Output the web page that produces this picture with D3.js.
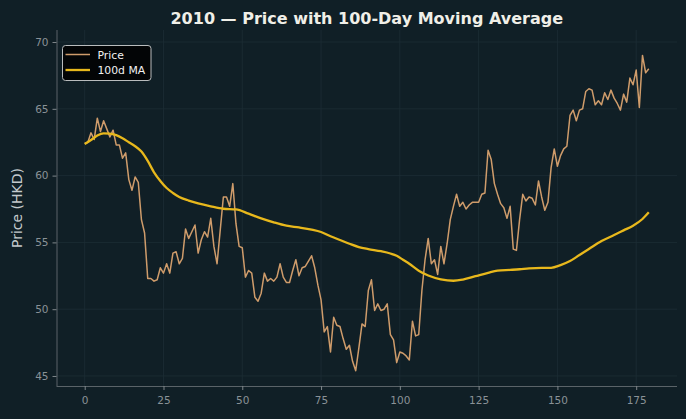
<!DOCTYPE html>
<html>
<head>
<meta charset="utf-8">
<script src="https://cdn.jsdelivr.net/npm/d3@7"></script>
<style>
  body { margin: 0; background: #101f26; }
  svg { display: block; font-family: "DejaVu Sans", sans-serif; }
</style>
</head>
<body>
<svg id="chart"></svg>
<script>
// daily closing price, trading day index 0..179
const price = [
  62.4, 62.5, 63.2, 62.7, 64.3, 63.3, 64.1, 63.5, 62.9, 63.4,
  62.3, 62.3, 61.3, 61.7, 59.7, 58.9, 59.9, 59.5, 56.7, 55.7,
  52.3, 52.3, 52.1, 52.2, 53.1, 52.7, 53.4, 52.7, 54.2, 54.3,
  53.4, 53.8, 56.0, 55.3, 55.8, 56.3, 54.2, 55.2, 55.8, 55.4,
  56.8, 54.7, 53.4, 55.9, 58.4, 58.4, 57.7, 59.4, 56.4, 54.7,
  54.6, 52.4, 52.9, 52.7, 50.9, 50.6, 51.2, 52.7, 52.1, 52.3,
  52.1, 52.4, 53.4, 52.4, 52.0, 52.0, 52.9, 53.7, 52.5, 53.1,
  53.2, 53.6, 54.0, 53.1, 51.8, 50.7, 48.3, 48.7, 46.8, 49.4,
  48.8, 48.7, 47.8, 47.0, 47.3, 46.1, 45.4, 47.1, 48.9, 48.7,
  51.4, 52.2, 49.9, 50.4, 49.9, 50.0, 50.4, 48.1, 47.7, 46.0,
  46.8, 46.7, 46.5, 46.2, 49.1, 48.0, 48.1, 51.4, 53.7, 55.3,
  53.4, 53.7, 52.6, 54.7, 53.4, 54.9, 56.7, 57.7, 58.6, 57.7,
  58.0, 57.5, 57.8, 58.0, 58.0, 58.0, 58.6, 58.7, 61.9, 61.2,
  59.4, 58.6, 57.9, 57.6, 56.8, 57.7, 54.5, 54.4, 56.7, 58.6,
  58.1, 58.4, 58.3, 57.8, 59.6, 58.4, 57.4, 58.0, 60.6, 62.0,
  60.7, 61.5, 62.0, 62.2, 64.5, 64.9, 64.1, 64.9, 65.0, 66.3,
  66.5, 66.4, 65.3, 65.6, 65.3, 66.2, 65.7, 66.4, 65.8, 65.4,
  64.9, 66.1, 65.5, 67.3, 66.8, 67.9, 65.1, 69.0, 67.7, 68.0
];

const maDay = [
  0, 2, 4, 6, 8, 10, 12, 14, 16, 18, 20, 22, 24, 26, 28, 30, 33, 36, 40, 44,
  48, 52, 56, 60, 64, 68, 72, 75, 78, 81, 84, 87, 90, 94, 97, 99, 101, 103, 106, 109,
  113, 117, 120, 124, 128, 131, 135, 138, 141, 145, 148, 151, 154, 157, 160, 164, 168, 171, 174, 177, 179
];
const maValue = [
  62.37, 62.66, 63.0, 63.16, 63.15, 63.03, 62.8, 62.5, 62.2, 61.8, 61.1, 60.25, 59.6, 59.07, 58.7, 58.4, 58.13, 57.92, 57.7, 57.52,
  57.47, 57.15, 56.8, 56.5, 56.25, 56.12, 55.96, 55.78, 55.46, 55.18, 54.9, 54.65, 54.5, 54.34, 54.17, 54.0, 53.7, 53.4, 52.88, 52.52,
  52.24, 52.13, 52.22, 52.47, 52.72, 52.88, 52.94, 52.99, 53.06, 53.1, 53.1, 53.3, 53.6, 54.05, 54.5, 55.1, 55.55, 55.9, 56.25, 56.75, 57.25
];

const xTicks = [0, 25, 50, 75, 100, 125, 150, 175];
const yTicks = [45, 50, 55, 60, 65, 70];

const width = 686;
const height = 419;
const margin = { left: 56.5, right: 9, top: 30, bottom: 33 };

const svg = d3.select("#chart").attr("width", width).attr("height", height);

svg.append("rect").attr("width", width).attr("height", height).attr("fill", "#101f26");

const plotWidth = width - margin.left - margin.right;
const plotHeight = height - margin.top - margin.bottom;

const xScale = d3.scaleLinear().domain([-8.95, 187.95]).range([0, plotWidth]);
const yScale = d3.scaleLinear().domain([44.25, 70.9]).range([plotHeight, 0]);

const g = svg.append("g").attr("transform", "translate(" + margin.left + "," + margin.top + ")");

// grid
g.selectAll(".gx")
  .data(xTicks)
  .join("line")
  .attr("x1", d => xScale(d)).attr("x2", d => xScale(d))
  .attr("y1", 0).attr("y2", plotHeight)
  .attr("stroke", "#1d2d35").attr("stroke-width", 0.8);

g.selectAll(".gy")
  .data(yTicks)
  .join("line")
  .attr("x1", 0).attr("x2", plotWidth)
  .attr("y1", d => yScale(d)).attr("y2", d => yScale(d))
  .attr("stroke", "#1d2d35").attr("stroke-width", 0.8);

// axes
const axisBottom = d3.axisBottom(xScale).tickValues(xTicks).tickSize(4).tickPadding(7);
const axisLeft = d3.axisLeft(yScale).tickValues(yTicks).tickSize(4).tickPadding(4);

const gx = g.append("g").attr("transform", "translate(0," + plotHeight + ")").call(axisBottom);
const gy = g.append("g").call(axisLeft);

[gx, gy].forEach(function (a) {
  a.select(".domain").attr("stroke", "#5a6368").attr("stroke-width", 1);
  a.selectAll(".tick line").attr("stroke", "#7f878b");
  a.selectAll(".tick text")
    .attr("fill", "#8a9297")
    .attr("font-size", 10.5)
    .attr("font-family", "DejaVu Sans, sans-serif");
});
gx.select(".domain").attr("d", "M0,0.5H" + plotWidth);
gy.select(".domain").attr("d", "M0.5," + plotHeight + "V0");

// lines
const priceLine = d3.line()
  .x((d, i) => xScale(i))
  .y(d => yScale(d));

g.append("path")
  .datum(price)
  .attr("fill", "none")
  .attr("stroke", "#cf9c6b")
  .attr("stroke-width", 1.5)
  .attr("stroke-linejoin", "round")
  .attr("d", priceLine);

const maLine = d3.line()
  .x((d, i) => xScale(maDay[i]))
  .y(d => yScale(d))
  .curve(d3.curveMonotoneX);

g.append("path")
  .datum(maValue)
  .attr("fill", "none")
  .attr("stroke", "#e8b81c")
  .attr("stroke-width", 2.3)
  .attr("d", maLine);

// title and label
svg.append("text")
  .attr("x", margin.left + plotWidth / 2)
  .attr("y", 24)
  .attr("text-anchor", "middle")
  .attr("fill", "#f0efe8")
  .attr("font-size", 16)
  .attr("font-weight", "bold")
  .text("2010 \u2014 Price with 100-Day Moving Average");

svg.append("text")
  .attr("transform", "translate(22," + (margin.top + plotHeight / 2) + ") rotate(-90)")
  .attr("text-anchor", "middle")
  .attr("fill", "#c3c9cc")
  .attr("font-size", 14)
  .text("Price (HKD)");

// legend
const legend = svg.append("g").attr("transform", "translate(62.5,45.5)");
legend.append("rect")
  .attr("width", 88.5).attr("height", 35)
  .attr("rx", 3)
  .attr("fill", "#030506")
  .attr("stroke", "#b9bcbd")
  .attr("stroke-width", 1);

const items = [
  { name: "Price", color: "#cf9c6b", w: 1.5 },
  { name: "100d MA", color: "#e8b81c", w: 2.3 }
];
items.forEach(function (d, i) {
  const y = 9 + i * 15.5;
  legend.append("line")
    .attr("x1", 3).attr("x2", 27.5).attr("y1", y).attr("y2", y)
    .attr("stroke", d.color).attr("stroke-width", d.w);
  legend.append("text")
    .attr("x", 35).attr("y", y + 4)
    .attr("fill", "#f2f2f2")
    .attr("font-size", 10.8)
    .text(d.name);
});
</script>
</body>
</html>
